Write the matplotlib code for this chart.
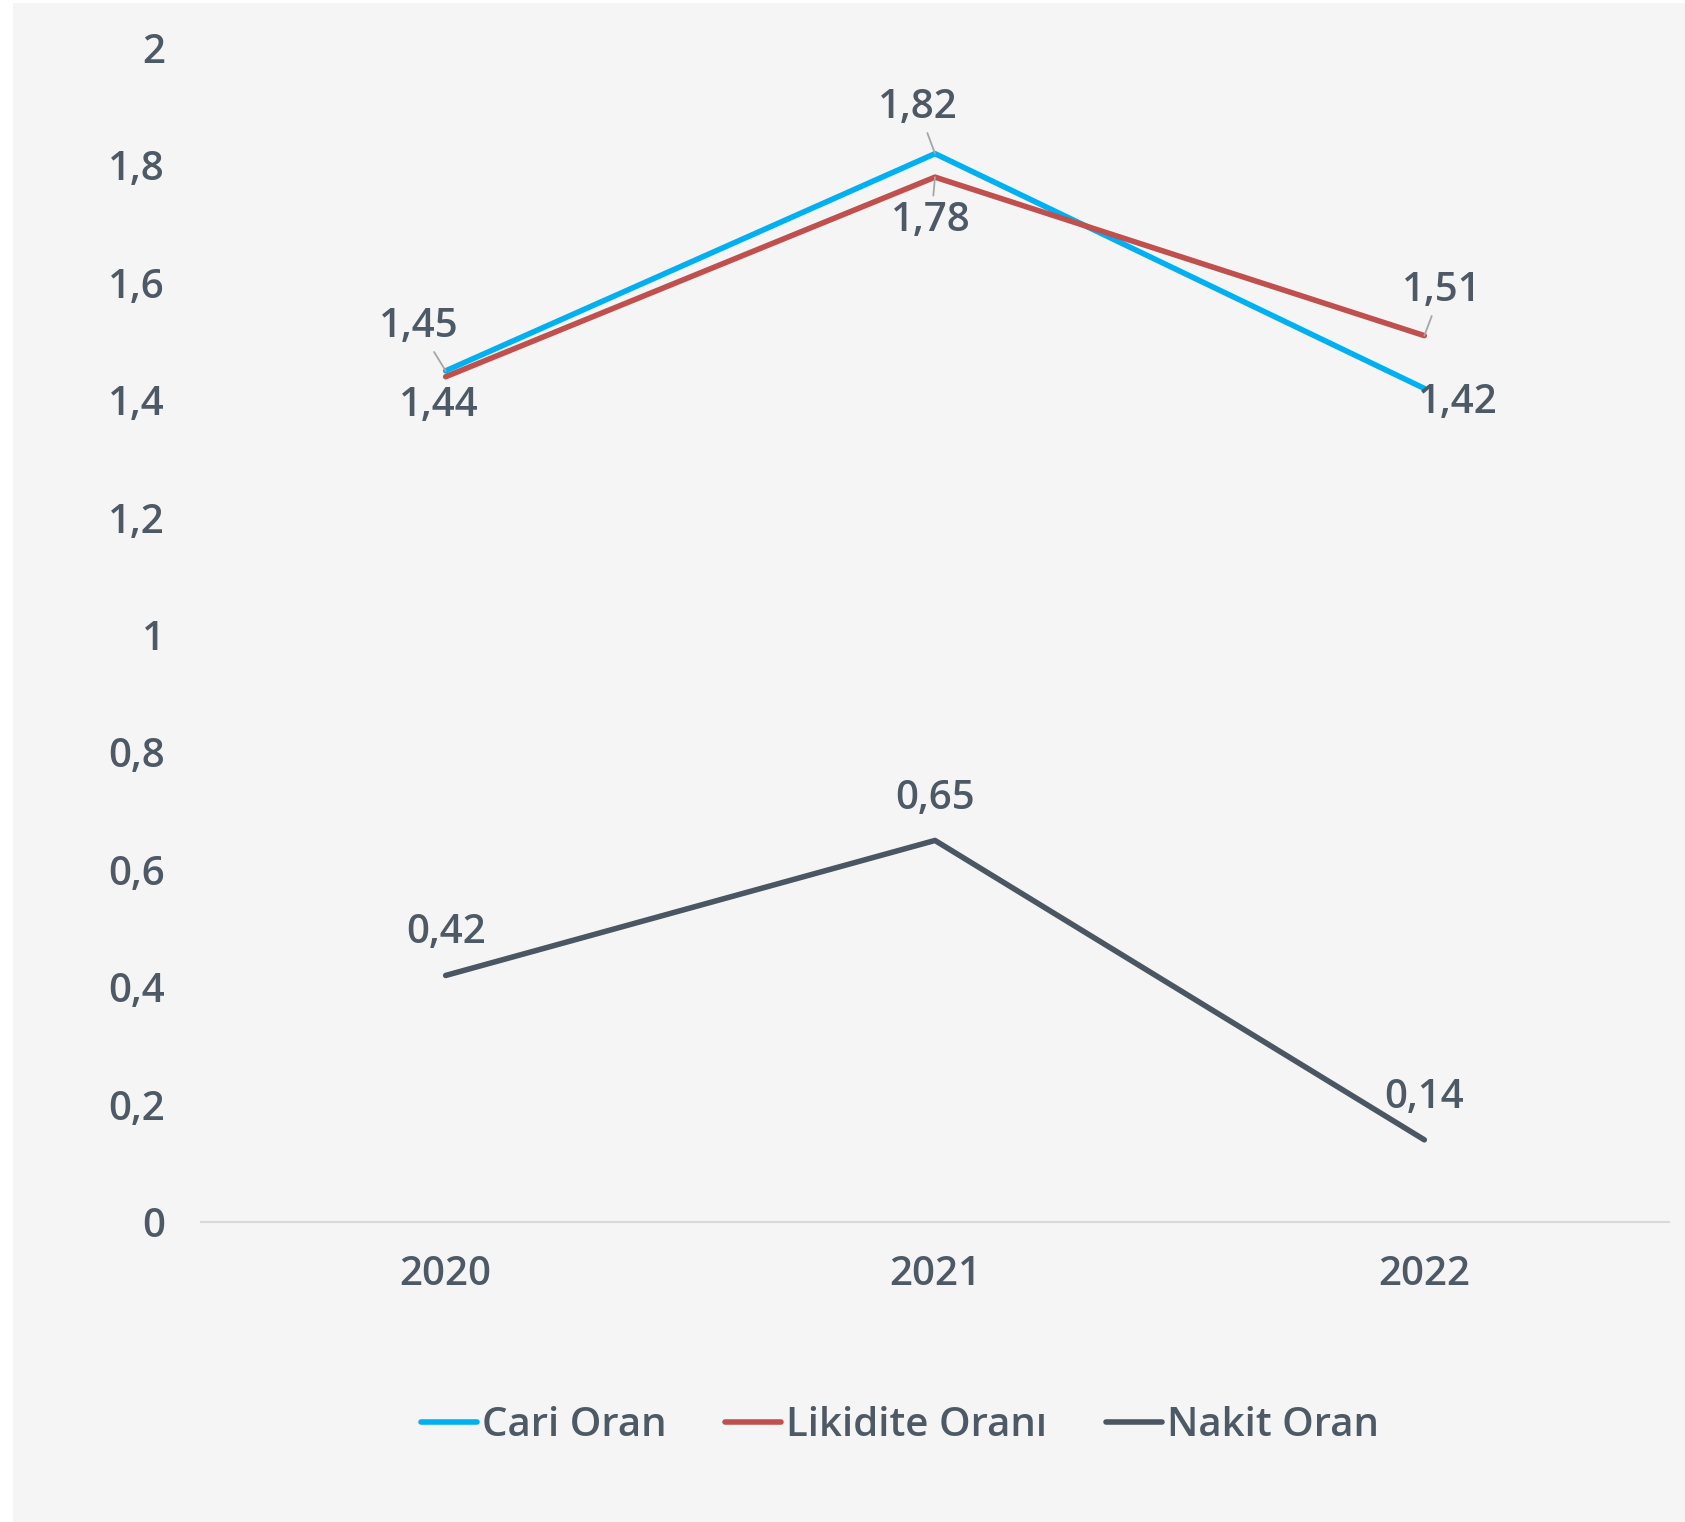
import matplotlib
matplotlib.use("Agg")
import matplotlib.pyplot as plt
from matplotlib.patches import Rectangle

# data
years = ["2020", "2021", "2022"]
cari_oran = [1.45, 1.82, 1.42]
likidite_orani = [1.44, 1.78, 1.51]
nakit_oran = [0.42, 0.65, 0.14]
y_ticks = [0, 0.2, 0.4, 0.6, 0.8, 1, 1.2, 1.4, 1.6, 1.8, 2]
y_tick_labels = ["0", "0,2", "0,4", "0,6", "0,8", "1", "1,2", "1,4", "1,6", "1,8", "2"]

TEXT = "#4d5a66"
FS = 29
plt.rcParams["font.family"] = ["Open Sans", "DejaVu Sans"]

fig = plt.figure(figsize=(16.85, 15.22), dpi=100, facecolor="white")
fig.patches.append(Rectangle((13 / 1685, 0), 1, 1 - 3 / 1522, transform=fig.transFigure,
                             facecolor="#f5f5f5", edgecolor="none", zorder=-10))
ax = fig.add_axes([201 / 1685, 1 - 1222 / 1522, (1669 - 201) / 1685, (1222 - 48) / 1522])
ax.set_facecolor("none")

x = range(len(years))
ax.plot(x, cari_oran, color="#00b0f0", lw=4, label="Cari Oran", solid_capstyle="round")
ax.plot(x, likidite_orani, color="#c0504d", lw=4, label="Likidite Oranı", solid_capstyle="round")
ax.plot(x, nakit_oran, color="#4a5763", lw=4, label="Nakit Oran", solid_capstyle="round")

ax.set_xlim(-0.5, 2.5)
ax.set_ylim(0, 2)
ax.set_xticks(list(x))
ax.set_xticklabels(years)
ax.set_yticks(y_ticks)
ax.set_yticklabels(y_tick_labels)
ax.tick_params(length=0, labelsize=FS, labelcolor=TEXT)
ax.tick_params(axis="y", pad=26)
ax.tick_params(axis="x", pad=24)
for lab in ax.get_xticklabels() + ax.get_yticklabels():
    lab.set_fontweight("semibold")
for s in ["left", "right", "top"]:
    ax.spines[s].set_visible(False)
ax.spines["bottom"].set_color("#d9d9d9")
ax.spines["bottom"].set_linewidth(1.5)


def label(xi, v, dx, dy, leader=False):
    txt = f"{v:.2f}".replace(".", ",")
    kw = {}
    if leader:
        kw["arrowprops"] = dict(arrowstyle="-", color="#a6a6a6", lw=1.3, shrinkA=2, shrinkB=0)
    ax.annotate(txt, (xi, v), xytext=(dx, dy), textcoords="offset pixels",
                ha="center", va="center", fontsize=FS, fontweight="semibold",
                color=TEXT, **kw)


# data labels (offsets in pixels from the point)
label(0, cari_oran[0], -27, 44, True)
label(1, cari_oran[1], -17, 46, True)
label(2, cari_oran[2], 33, -15)
label(0, likidite_orani[0], -7, -29)
label(1, likidite_orani[1], -4, -44, True)
label(2, likidite_orani[2], 17, 45, True)
label(0, nakit_oran[0], 0, 42)
label(1, nakit_oran[1], 0, 41)
label(2, nakit_oran[2], 0, 42)

leg = fig.legend(loc="center", bbox_to_anchor=(0.534, 1 - 1426 / 1522), ncol=3,
                 frameon=False, fontsize=FS, handlelength=1.4, handletextpad=0.12,
                 columnspacing=1.45)
for t in leg.get_texts():
    t.set_color(TEXT)
    t.set_fontweight("semibold")

fig.savefig("out.png", dpi=100, facecolor=fig.get_facecolor())
